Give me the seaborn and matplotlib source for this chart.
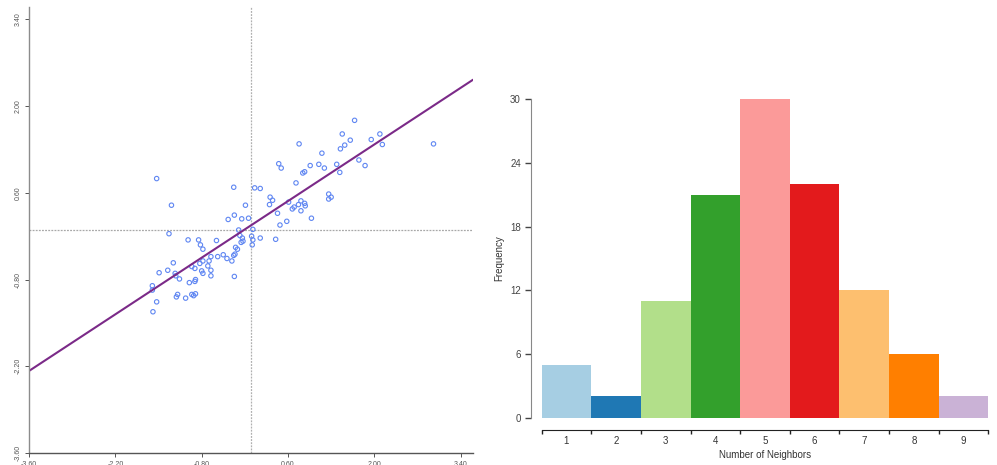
import numpy as np
import pandas as pd
import matplotlib
matplotlib.use('Agg')
import matplotlib.pyplot as plt
import seaborn as sns

# scatter points
xs = [-1.53, -1.29, -1.33, -1.02, -0.85, -0.82, -0.78, -0.56, -0.65, -0.68,
      -0.78, -0.83, -0.70, -0.54, -0.45, -0.39, -0.31, -0.28, -0.26, -0.25,
      -0.22, -0.27, -1.26, -1.35, -1.49, -1.23, -1.22, -1.16, -1.60, -1.60,
      -1.53, -1.59, -1.21, -1.19, -1.06, -1.00, -0.96, -0.93, -0.90, -0.91,
      -0.90, -0.91, -0.96, -0.80, -0.78, -0.65, -0.65, -0.37, -0.27, -0.28,
      -0.15, -0.09, -0.04, -0.20, -0.18, -0.14, -0.13, -0.16, 0.01, 0.03,
      0.03, 0.02, 0.15, 0.06, 0.15, 0.40, 0.47, 0.58, 0.43, 0.30,
      0.31, 0.35, 0.45, 0.49, 0.61, 0.67, 0.70, 0.77, 0.81, 0.81,
      0.87, 0.88, 0.73, 0.98, 0.78, 0.84, 0.87, 0.96, 1.10, 1.15,
      1.19, 1.26, 1.30, 1.26, 1.39, 1.44, 1.45, 1.48, 1.52, 1.61,
      1.68, 1.75, 1.85, 1.95, 2.09, 2.13, 2.96]
ys = [0.83, 0.40, -0.06, -0.16, -0.16, -0.24, -0.31, -0.17, -0.43, -0.50,
      -0.50, -0.54, -0.58, -0.43, -0.40, -0.46, -0.50, -0.41, -0.39, -0.28,
      -0.31, -0.75, -0.53, -0.65, -0.69, -0.70, -0.74, -0.79, -0.90, -0.97,
      -1.16, -1.32, -1.08, -1.04, -1.10, -0.85, -1.04, -1.06, -1.03, -0.83,
      -0.80, -0.62, -0.59, -0.66, -0.70, -0.65, -0.74, 0.17, 0.24, 0.69,
      0.18, 0.40, 0.19, 0.00, -0.09, -0.13, -0.18, -0.20, -0.10, 0.01,
      -0.16, -0.24, -0.13, 0.68, 0.67, -0.15, 0.08, 0.14, 0.27, 0.41,
      0.53, 0.48, 1.07, 1.00, 0.45, 0.34, 0.37, 0.41, 0.31, 0.47,
      0.43, 0.39, 0.76, 0.19, 1.39, 0.92, 0.94, 1.04, 1.06, 1.24,
      1.00, 0.58, 0.53, 0.50, 1.06, 0.93, 1.31, 1.55, 1.37, 1.45,
      1.77, 1.13, 1.04, 1.46, 1.55, 1.38, 1.39]

# histogram of neighbour counts
neighbors = ['1', '2', '3', '4', '5', '6', '7', '8', '9']
freq = [5, 2, 11, 21, 30, 22, 12, 6, 2]
ticks_lr = [-3.6, -2.2, -0.8, 0.6, 2.0, 3.4]
ticks_freq = [0, 6, 12, 18, 24, 30]

sns.set_style('white')
plt.rcParams['font.family'] = ['Liberation Sans', 'DejaVu Sans']

fig = plt.figure(figsize=(9.97, 4.65), dpi=100)
ax1 = fig.add_axes([0.0291, 0.0258, 0.4453, 0.9592])
ax2 = fig.add_axes([0.5433, 0.1017, 0.4480, 0.6848])

# ---- left: scatter + regression line
df = pd.DataFrame({'x': xs, 'y': ys})
ax1.set_xlim(-3.6, 3.6)
ax1.set_ylim(-3.6, 3.6)
ax1.axvline(0, color='#b0b0b0', lw=0.9, ls=(0, (1.5, 1)), zorder=0)
ax1.axhline(0, color='#a8a8a8', lw=0.9, ls=(0, (1.5, 1)), zorder=0)
sns.regplot(data=df, x='x', y='y', ax=ax1, scatter=False, ci=None,
            truncate=False, line_kws={'color': '#7b2a88', 'lw': 1.5})
sns.scatterplot(data=df, x='x', y='y', ax=ax1, marker='o', s=10,
                facecolor='none', edgecolor='#5f86f2', linewidth=0.8)
ax1.set_xlabel('')
ax1.set_ylabel('')
ax1.set_xticks(ticks_lr)
ax1.set_yticks(ticks_lr)
ax1.set_xticklabels(['%.2f' % t for t in ticks_lr])
ax1.set_yticklabels(['%.2f' % t for t in ticks_lr], rotation=90, va='center')
ax1.tick_params(axis='both', labelsize=5, colors='#555555', length=3,
                width=0.7, pad=2, left=True, bottom=True)
ax1.tick_params(axis='x', pad=3)
for s in ['top', 'right']:
    ax1.spines[s].set_visible(False)
ax1.spines['left'].set_color('#8c8c8c')
ax1.spines['bottom'].set_color('#555555')
ax1.spines['left'].set_linewidth(1.0)
ax1.spines['bottom'].set_linewidth(1.0)

# ---- right: coloured histogram bars
hd = pd.DataFrame({'n': neighbors, 'freq': freq})
sns.barplot(data=hd, x='n', y='freq', hue='n', palette='Paired', ax=ax2,
            width=1.0, legend=False, saturation=1, edgecolor='none')
ax2.set_xlim(-0.5, 8.5)
ax2.set_ylim(0, 30)
ax2.set_yticks(ticks_freq)
ax2.set_yticklabels([str(t) for t in ticks_freq], rotation=90, va='center')
ax2.set_xticks(range(len(neighbors)))
ax2.set_xticks(np.arange(-0.5, 9.0, 1.0), minor=True)
ax2.tick_params(axis='x', which='major', length=0, labelsize=7,
                colors='#333333', pad=4)
ax2.tick_params(axis='x', which='minor', length=3, width=1, color='#222222',
                bottom=True)
ax2.tick_params(axis='y', labelsize=7, colors='#444444', length=4,
                width=1, left=True, pad=3)
for s in ['top', 'right']:
    ax2.spines[s].set_visible(False)
ax2.spines['left'].set_position(('outward', 8))
ax2.spines['left'].set_bounds(0, 30)
ax2.spines['left'].set_color('#888888')
ax2.spines['bottom'].set_position(('outward', 9))
ax2.spines['bottom'].set_bounds(-0.5, 8.5)
ax2.spines['bottom'].set_color('#222222')
ax2.set_xlabel('Number of Neighbors', fontsize=7, color='#333333', labelpad=3)
ax2.set_ylabel('Frequency', fontsize=7, color='#333333', labelpad=4)

fig.savefig('out.png', dpi=100)
